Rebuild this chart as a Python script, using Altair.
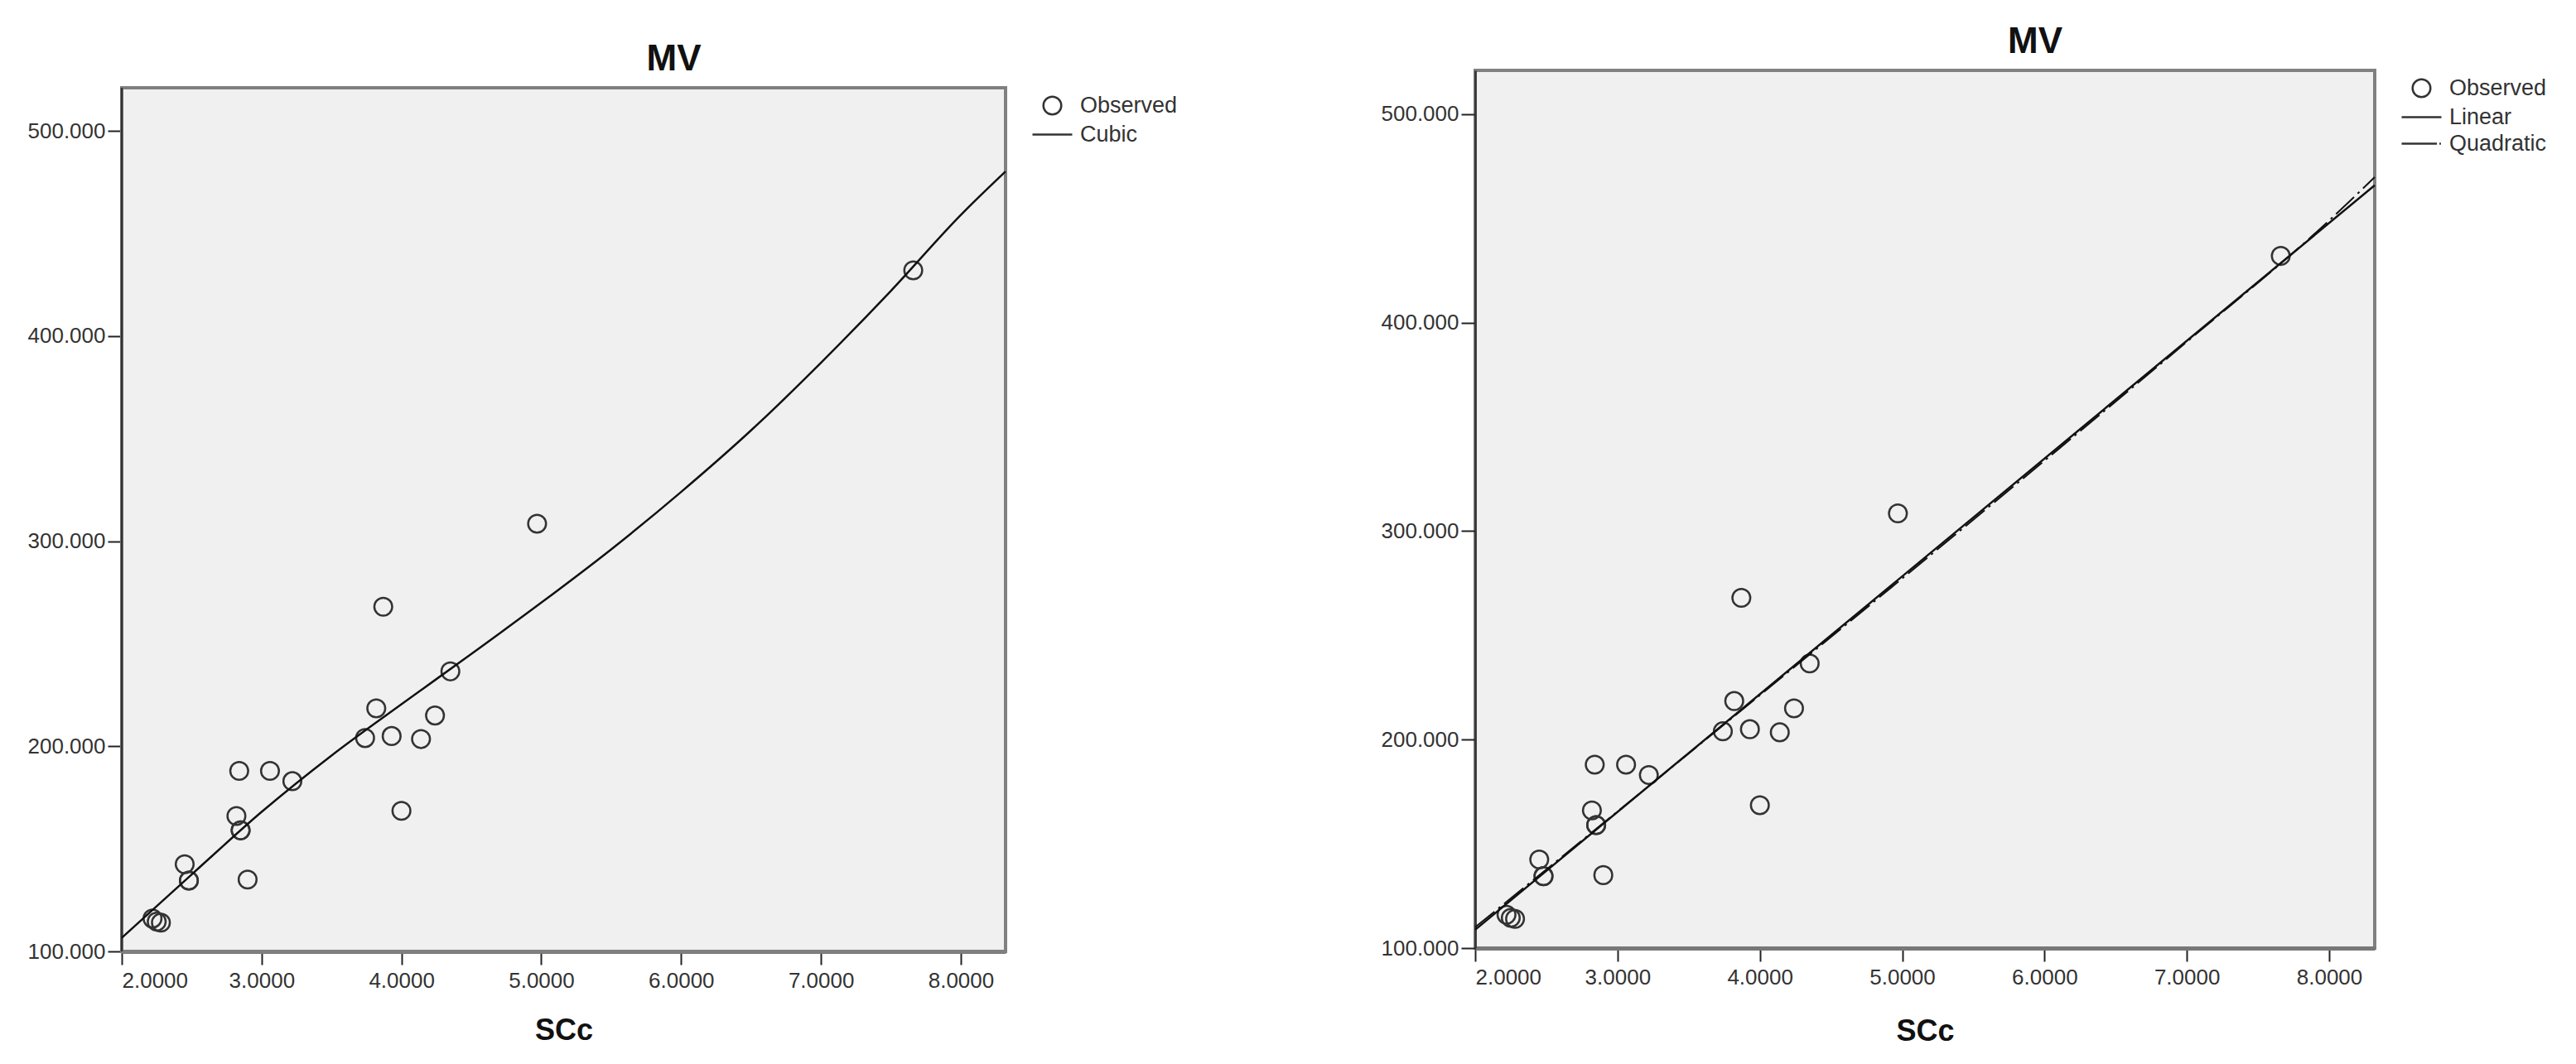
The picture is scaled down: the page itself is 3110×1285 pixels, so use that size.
import altair as alt
import pandas as pd

FONT = "Liberation Sans"

# Axis ranges
X_MIN, X_MAX = 2.0, 8.32
Y_MIN, Y_MAX = 100.0, 521.0
Y_MAX_LEFT_VIEW = 529.5  # left view reaches a little above its plot frame (panel sits lower)

obs_x = [2.22, 2.25, 2.28, 2.45, 2.48, 2.48, 2.82, 2.84, 2.85, 2.85, 2.90, 3.06,
         3.22, 3.74, 3.82, 3.87, 3.93, 4.00, 4.14, 4.24, 4.35, 4.97, 7.66]
obs_y = [116.0, 114.5, 114.0, 142.5, 134.5, 134.5, 166.0, 188.0, 159.0, 159.0, 135.0, 188.0,
         183.0, 204.0, 218.5, 268.0, 205.0, 168.5, 203.5, 215.0, 236.5, 308.5, 432.0]

# Cubic fit curve (left panel)
cubic_x = [2.0, 2.5, 3.0, 3.5, 4.0, 4.5, 5.0, 5.5, 6.0, 6.5, 7.0, 7.5, 8.0, 8.32]
cubic_y = [106.6, 137.5, 168.0, 195.5, 220.5, 245.0, 270.0, 296.0, 324.0, 354.0, 387.0, 422.0, 459.0, 480.2]

# Linear fit (right panel)
linear_x = [2.0, 8.32]
linear_y = [108.8, 465.9]

# Quadratic fit (right panel)
quad_x = [2.0, 3.0, 4.0, 5.0, 6.0, 7.0, 8.0, 8.32]
quad_y = [110.0, 165.5, 221.3, 277.3, 333.8, 390.8, 449.0, 469.8]

x_ticks = [2, 3, 4, 5, 6, 7, 8]
y_ticks = [100, 200, 300, 400, 500]

CIRCLE = "M-0.9,0A0.9,0.9 0 1,1 0.9,0A0.9,0.9 0 1,1 -0.9,0Z"
SOLID = "M-2,0H2"
DASHDOT = "M-2,0H1.55M1.8,0H1.95"

df_obs = pd.DataFrame({"x": obs_x, "y": obs_y, "series": "Observed"})
df_cubic = pd.DataFrame({"x": cubic_x, "y": cubic_y})
df_lin = pd.DataFrame({"x": linear_x, "y": linear_y})
df_quad = pd.DataFrame({"x": quad_x, "y": quad_y})
df_frame = pd.DataFrame({"x": [X_MIN], "x2": [X_MAX], "y": [Y_MIN], "y2": [Y_MAX]})


def enc_x(tpad):
    return alt.X("x:Q", scale=alt.Scale(domain=[X_MIN, X_MAX], nice=False, zero=False),
                 axis=alt.Axis(values=x_ticks, format=".4f", title="SCc", titlePadding=tpad))


def enc_y(ymax, domain_line):
    return alt.Y("y:Q", scale=alt.Scale(domain=[Y_MIN, ymax], nice=False, zero=False),
                 axis=alt.Axis(values=y_ticks, format=".3f", title=None, domain=domain_line))


def legend(offset, padding):
    return alt.Legend(title=None, orient="right", offset=offset, padding=padding,
                      labelFont=FONT, labelFontSize=27, labelColor="#333333",
                      labelOffset=20, rowPadding=4,
                      symbolStrokeColor="#333333", symbolStrokeWidth=2.5,
                      symbolSize=576, symbolFillColor="transparent")


def panel(line_specs, domain, rng, title, width, height, tpad, ymax, framed, leg):
    ex = lambda: enc_x(tpad)
    ey = lambda: enc_y(ymax, not framed)
    layers = []
    if framed:
        layers.append(alt.Chart(df_frame).mark_rect(fill="#f0f0f0", stroke="#808080", strokeWidth=4)
                      .encode(x=ex(), x2="x2:Q", y=ey(), y2="y2:Q"))
        layers.append(alt.Chart(df_frame).mark_rule(color="#333333", strokeWidth=2.5)
                      .encode(x=ex(), y=ey(), y2="y2:Q"))
    layers.append(alt.Chart(df_obs).mark_point(filled=False, size=576, strokeWidth=2.5,
                                               color="#333333", opacity=1).encode(
        x=ex(), y=ey(),
        shape=alt.Shape("series:N", scale=alt.Scale(domain=domain, range=rng), legend=leg),
    ))
    layers += [alt.Chart(df).mark_line(**mk).encode(x=ex(), y=ey()) for df, mk in line_specs]
    ch = alt.layer(*layers).properties(width=width, height=height, title=title)
    if framed:
        ch = ch.properties(view=alt.ViewBackground(fill="transparent", stroke="transparent"))
    return ch


left_lines = [
    (df_cubic, dict(color="#111111", strokeWidth=2.5, interpolate="monotone")),
]
right_lines = [
    (df_lin, dict(color="#111111", strokeWidth=2.5)),
    (df_quad, dict(color="#111111", strokeWidth=2, strokeDash=[30, 6, 3, 6], interpolate="monotone")),
]

common = dict(font=FONT, fontSize=44, fontWeight="bold", color="#111111",
              anchor="middle", frame="group", dx=133)

left = panel(left_lines, ["Observed", "Cubic"], [CIRCLE, SOLID],
             alt.TitleParams("MV", offset=-9, **common), 1067, 1064, 30, Y_MAX_LEFT_VIEW, True,
             legend(14, 29))
right = panel(right_lines, ["Observed", "Linear", "Quadratic"], [CIRCLE, SOLID, DASHDOT],
              alt.TitleParams("MV", offset=12, **common), 1086, 1060, 35, Y_MAX, False,
              legend(35, 8))

chart = alt.hconcat(left, right, spacing=212).properties(
    padding={"left": 23, "top": 19, "right": 5, "bottom": 5}
).resolve_scale(
    shape="independent", y="independent"
).configure_view(
    fill="#f0f0f0", stroke="#808080", strokeWidth=4
).configure_axisX(
    domainColor="#777777", domainWidth=5, tickColor="#222222", tickWidth=2, tickSize=16,
    labelFont=FONT, labelFontSize=26, labelColor="#333333", labelPadding=6,
    titleFont=FONT, titleFontSize=36, titleFontWeight="bold", titleColor="#111111",
    grid=False
).configure_axisY(
    domainColor="#333333", domainWidth=2.5, tickColor="#222222", tickWidth=2, tickSize=17,
    labelFont=FONT, labelFontSize=26, labelColor="#333333", labelPadding=3, grid=False
)

chart.save("out.html", embed_options={"renderer": "svg", "actions": False})
